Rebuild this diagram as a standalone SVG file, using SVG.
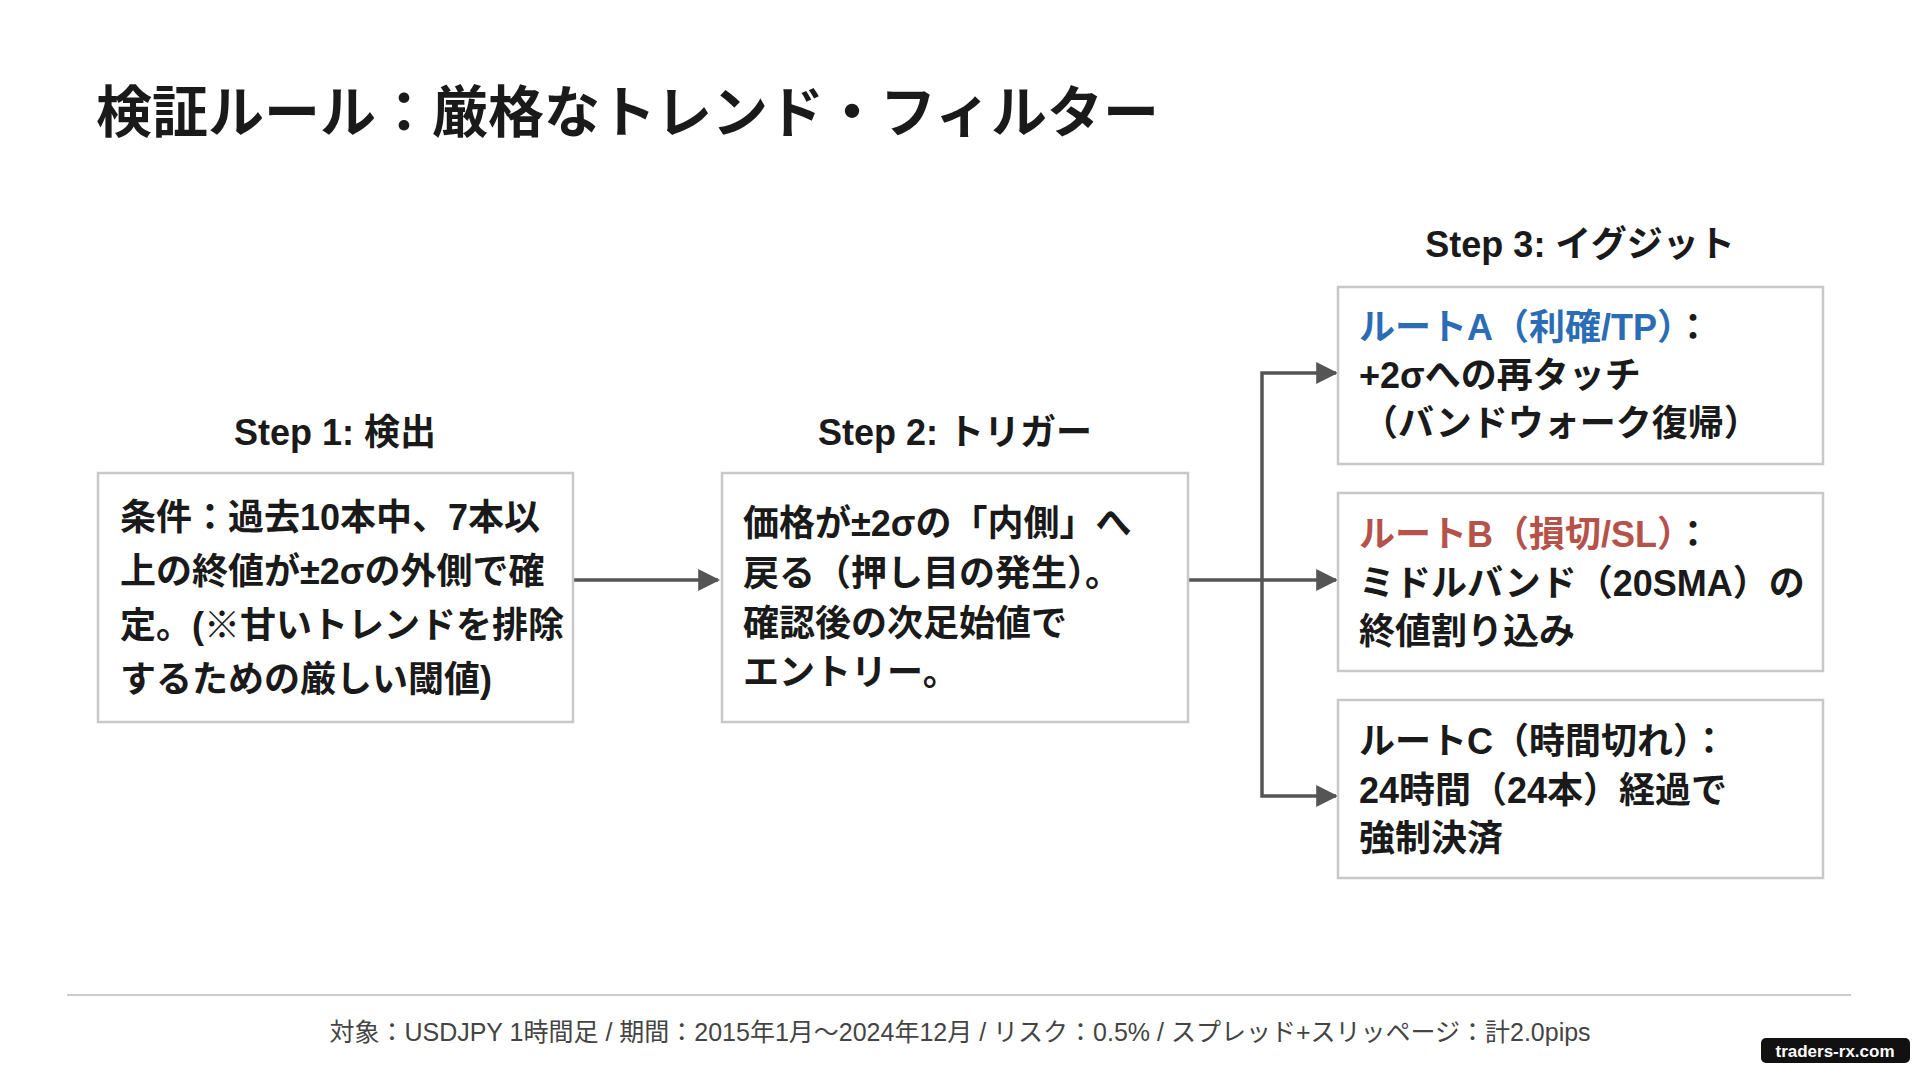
<svg xmlns="http://www.w3.org/2000/svg" width="1920" height="1072" viewBox="0 0 1920 1072">
<defs>
<style>
text{font-family:"Liberation Sans","Noto Sans CJK JP",sans-serif;fill:#1a1a1a}
.t{font-size:36px;font-weight:700}
.h{font-size:36px;font-weight:700;text-anchor:middle}
.box{fill:#fff;stroke:#c8c8c8;stroke-width:2.5}
.c{stroke:#555;stroke-width:3.5;fill:none}
</style>
<marker id="ar" markerWidth="10" markerHeight="10" refX="9" refY="5" orient="auto" markerUnits="userSpaceOnUse"><path d="M0,-1 L22,5 L0,11z" fill="#555" transform="scale(0.45) translate(0,6)"/></marker>
<marker id="a" viewBox="0 0 10 10" markerWidth="22" markerHeight="22" refX="9" refY="5" orient="auto" markerUnits="userSpaceOnUse"><path d="M0,0 L10,5 L0,10z" fill="#555"/></marker>
</defs>
<rect width="1920" height="1072" fill="#fff"/>
<text x="96" y="132" style="font-size:56px;font-weight:700">検証ルール：厳格なトレンド・フィルター</text>
<g id="connectors">
<path class="c" d="M573,580 H718" marker-end="url(#a)"/>
<path class="c" d="M1188,580 H1336" marker-end="url(#a)"/>
<path class="c" d="M1262,580 V373 H1336" marker-end="url(#a)"/>
<path class="c" d="M1262,580 V796 H1336" marker-end="url(#a)"/>
</g>
<g id="step1">
<text x="335" y="445" class="h">Step 1: 検出</text>
<rect class="box" x="98" y="473" width="475" height="249"/>
<text class="t" x="120" y="530">条件：過去10本中、7本以</text>
<text class="t" x="120" y="584">上の終値が±2σの外側で確</text>
<text class="t" x="120" y="638">定。(※甘いトレンドを排除</text>
<text class="t" x="120" y="692">するための厳しい閾値)</text>
</g>
<g id="step2">
<text x="955" y="445" class="h">Step 2: トリガー</text>
<rect class="box" x="722" y="473" width="466" height="249"/>
<text class="t" x="743" y="536">価格が±2σの「内側」へ</text>
<text class="t" x="743" y="586">戻る（押し目の発生）。</text>
<text class="t" x="743" y="636">確認後の次足始値で</text>
<text class="t" x="743" y="685">エントリー。</text>
</g>
<text x="1580" y="257" class="h">Step 3: イグジット</text>
<g id="routeA">
<rect class="box" x="1338" y="287" width="485" height="177"/>
<text class="t" x="1359" y="340"><tspan fill="#2b6cb5">ルートA（利確/TP）</tspan>：</text>
<text class="t" x="1359" y="388">+2σへの再タッチ</text>
<text class="t" x="1362" y="436">（バンドウォーク復帰）</text>
</g>
<g id="routeB">
<rect class="box" x="1338" y="493" width="485" height="178"/>
<text class="t" x="1359" y="547"><tspan fill="#b5524a">ルートB（損切/SL）</tspan>：</text>
<text class="t" x="1359" y="596">ミドルバンド（20SMA）の</text>
<text class="t" x="1359" y="644">終値割り込み</text>
</g>
<g id="routeC">
<rect class="box" x="1338" y="700" width="485" height="178"/>
<text class="t" x="1359" y="754">ルートC（時間切れ）：</text>
<text class="t" x="1359" y="803">24時間（24本）経過で</text>
<text class="t" x="1359" y="851">強制決済</text>
</g>
<line x1="67" y1="995" x2="1851" y2="995" stroke="#ccc" stroke-width="2"/>
<text x="960" y="1041" text-anchor="middle" style="font-size:25px;fill:#444">対象：USDJPY 1時間足 / 期間：2015年1月〜2024年12月 / リスク：0.5% / スプレッド+スリッページ：計2.0pips</text>
<rect x="1761" y="1038" width="149" height="25" rx="5" fill="#111"/>
<text x="1835" y="1057" text-anchor="middle" style="font-size:17px;font-weight:700;fill:#fff">traders-rx.com</text>
</svg>
